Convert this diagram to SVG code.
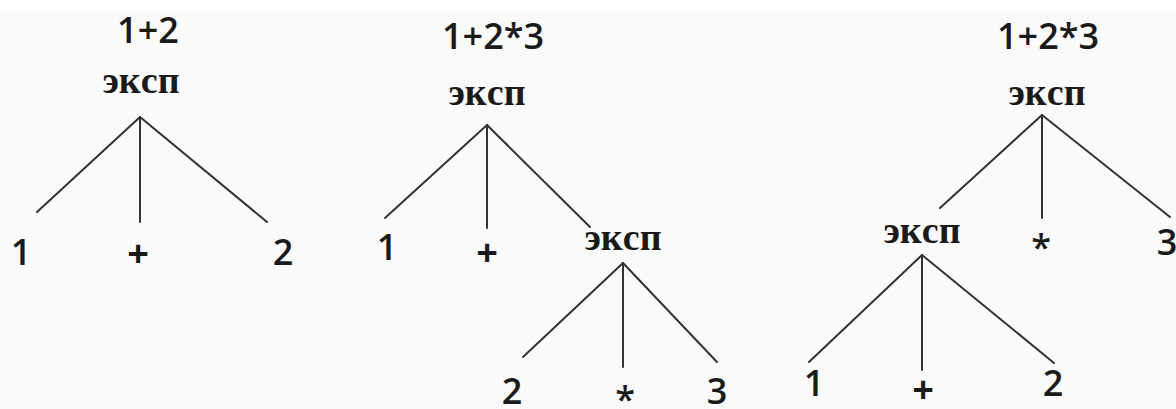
<svg xmlns="http://www.w3.org/2000/svg" width="1176" height="409" viewBox="0 0 1176 409">
<style>
.t{font-family:"Open Sans","Liberation Sans",sans-serif;font-weight:600;font-size:36px;fill:#1a1a1a;text-anchor:middle}
.p{font-weight:700;font-size:38px}
.e{font-family:"Liberation Serif","Times New Roman",serif;font-weight:bold;font-size:38px;fill:#1a1a1a;text-anchor:middle}
.c line{stroke:#333;stroke-width:2;stroke-linecap:round}
</style>
<rect width="1176" height="409" fill="#fafafa"/>
<rect width="1176" height="9" fill="#ffffff"/>

<g id="tree1">
  <text class="t" x="148" y="43">1+2</text>
  <g id="t1-root"><text class="e" x="141" y="93">экcп</text></g>
  <g id="t1-1"><text class="t" x="21" y="265">1</text></g>
  <g id="t1-plus"><text class="t p" x="138" y="267">+</text></g>
  <g id="t1-2"><text class="t" x="283" y="265">2</text></g>
</g>

<g id="tree2">
  <text class="t" x="493" y="49">1+2*3</text>
  <g id="t2-root"><text class="e" x="487" y="105">экcп</text></g>
  <g id="t2-1"><text class="t" x="387" y="260">1</text></g>
  <g id="t2-plus"><text class="t p" x="487" y="266">+</text></g>
  <g id="t2-sub"><text class="e" x="623" y="250">экcп</text></g>
  <g id="t2-2"><text class="t" x="512" y="404">2</text></g>
  <g id="t2-star"><text class="t" x="625" y="412">*</text></g>
  <g id="t2-3"><text class="t" x="717" y="404">3</text></g>
</g>

<g id="tree3">
  <text class="t" x="1048" y="49">1+2*3</text>
  <g id="t3-root"><text class="e" x="1047" y="105">экcп</text></g>
  <g id="t3-sub"><text class="e" x="922" y="243">экcп</text></g>
  <g id="t3-star"><text class="t" x="1041" y="260">*</text></g>
  <g id="t3-3"><text class="t" x="1167" y="255">3</text></g>
  <g id="t3-1"><text class="t" x="814" y="396">1</text></g>
  <g id="t3-plus"><text class="t p" x="923" y="403">+</text></g>
  <g id="t3-2"><text class="t" x="1053" y="396">2</text></g>
</g>

<g id="connectors" class="c">
  <line x1="140" y1="117" x2="37" y2="212"/>
  <line x1="140" y1="117" x2="140" y2="222"/>
  <line x1="140" y1="117" x2="267" y2="222"/>

  <line x1="487" y1="125" x2="385" y2="218"/>
  <line x1="487" y1="125" x2="487" y2="228"/>
  <line x1="487" y1="125" x2="590" y2="227"/>
  <line x1="623" y1="263" x2="523" y2="357"/>
  <line x1="623" y1="263" x2="623" y2="367"/>
  <line x1="623" y1="263" x2="717" y2="362"/>

  <line x1="1042" y1="115" x2="940" y2="208"/>
  <line x1="1042" y1="115" x2="1042" y2="218"/>
  <line x1="1042" y1="115" x2="1170" y2="217"/>
  <line x1="922" y1="255" x2="809" y2="362"/>
  <line x1="922" y1="255" x2="922" y2="370"/>
  <line x1="922" y1="255" x2="1054" y2="363"/>
</g>
</svg>
